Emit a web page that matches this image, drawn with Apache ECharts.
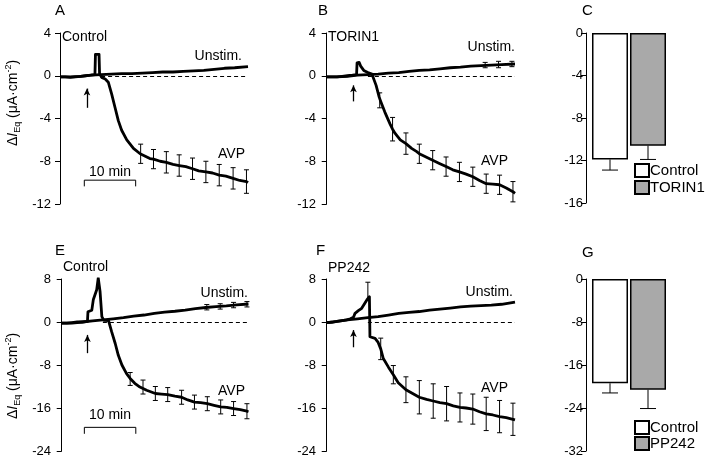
<!DOCTYPE html>
<html>
<head>
<meta charset="utf-8">
<script src="https://cdn.jsdelivr.net/npm/echarts@6/dist/echarts.min.js"></script>
<style>html,body{margin:0;background:#fff}#chart{width:709px;height:460px}</style>
</head>
<body>
<div id="chart"></div>
<script>
const FONT = 'Liberation Sans, Arial, Helvetica, sans-serif';

// time in min, current in µA·cm-2
// panel A (Control)
const avpA = [[0,-0.1],[1,-0.1],[2,-0.15],[3,-0.1],[4,-0.05],[5,0],[6,0.05],[6.8,0.1],[6.9,2.0],[7.6,2.0],[7.7,0.2],[8.1,-0.15],[8.8,-0.3],[9.4,-0.6],[10.05,-1.7],[10.7,-2.95],[11.35,-4.2],[12,-5.1],[13,-6.0],[14.3,-6.8],[15.6,-7.3],[16.5,-7.5],[17.5,-7.75],[18.2,-7.8],[19.5,-8.0],[20.7,-8.1],[22,-8.3],[23.2,-8.4],[24.5,-8.5],[25.8,-8.7],[27,-8.9],[28.4,-9.0],[29.7,-9.1],[31,-9.3],[32.3,-9.4],[33.7,-9.6],[35,-9.8],[36.3,-9.9],[36.6,-10.0]];
const unstimA = [[0,-0.1],[2,-0.1],[4,-0.05],[6,0.05],[8,0.1],[10,0.15],[12,0.2],[14,0.2],[16,0.25],[18,0.3],[20,0.35],[22,0.35],[24,0.4],[26,0.45],[28,0.5],[30,0.6],[32,0.7],[34,0.75],[36.6,0.85]];
const errAvpA = [[15.7,-7.3,0.9],[18.2,-7.8,0.9],[20.7,-8.1,1.0],[23.2,-8.4,1.0],[25.8,-8.7,1.0],[28.4,-9.0,1.0],[31.0,-9.3,1.0],[33.7,-9.6,1.0],[36.3,-9.9,1.1]];

// panel B (TORIN1)
const avpB = [[0,-0.1],[1,-0.1],[2,-0.1],[3,-0.05],[4,0],[5,0.05],[5.8,0.1],[5.9,1.2],[6.3,1.25],[6.6,0.9],[7.2,0.5],[8,0.3],[8.8,0.15],[9.1,0.05],[9.6,-0.9],[10.2,-2.0],[10.5,-2.4],[11.3,-3.4],[12.3,-4.5],[12.8,-5.0],[13.3,-5.4],[14.3,-6.0],[15.4,-6.35],[16.5,-6.8],[17.5,-7.1],[18.0,-7.3],[19.3,-7.6],[20.6,-7.9],[21.9,-8.2],[23.2,-8.5],[24.5,-8.8],[25.8,-9.0],[27.1,-9.2],[28.4,-9.45],[29.7,-9.8],[31.0,-10.1],[32.3,-10.15],[33.6,-10.2],[34.9,-10.5],[36.2,-10.85],[36.6,-11.0]];
const unstimB = [[0,-0.1],[2,-0.1],[4,-0.05],[6,0.05],[8,0.1],[10,0.15],[12,0.25],[14,0.3],[16,0.4],[18,0.5],[20,0.55],[22,0.65],[24,0.75],[26,0.8],[28,0.9],[30,0.95],[32,1.0],[34,1.05],[36.6,1.1]];
const errAvpB = [[10.3,-2.3,0.7],[12.8,-5.0,1.1],[15.4,-6.35,1.0],[18.0,-7.3,0.9],[20.6,-7.9,0.9],[23.2,-8.5,0.9],[25.8,-9.0,0.9],[28.4,-9.45,0.9],[31.0,-10.1,0.9],[33.6,-10.2,0.9],[36.2,-10.85,0.95]];
const errUnstimB = [[30.8,1.0,0.25],[33.4,1.05,0.3],[36.0,1.1,0.25]];

// panel E (Control)
const avpE = [[0,-0.2],[1,-0.2],[2,-0.1],[3,0],[4,0],[5.0,0.1],[5.1,1.9],[5.85,2.2],[6.15,4.2],[6.8,6.0],[7.1,8.2],[7.45,5.7],[7.8,1.0],[8.2,0.3],[9.1,0.25],[9.7,-1.8],[10.4,-4.0],[11.0,-6.2],[11.7,-8.0],[12.6,-9.6],[13.3,-10.5],[14.2,-11.4],[15.2,-12.1],[16.5,-12.7],[18.2,-13.3],[19.4,-13.4],[20.6,-13.5],[22,-13.8],[23.3,-14.0],[24.5,-14.5],[25.8,-14.9],[27,-15.0],[28.3,-15.2],[29.6,-15.5],[30.9,-15.8],[32.1,-15.9],[33.4,-16.1],[34.7,-16.3],[36.0,-16.6],[36.3,-16.7]];
const unstimE = [[0,-0.2],[2,-0.2],[4,0],[6,0.2],[8,0.4],[10,0.6],[12,0.8],[14,1.1],[16,1.3],[18,1.6],[20,1.85],[22,2.0],[24,2.2],[26,2.5],[28,2.7],[30,2.85],[32,3.0],[34,3.2],[36.3,3.35]];
const errAvpE = [[13.3,-10.6,1.2],[15.8,-12.1,1.3],[18.2,-13.3,1.3],[20.6,-13.5,1.3],[23.3,-14.0,1.3],[25.8,-14.9,1.3],[28.3,-15.2,1.3],[30.9,-15.8,1.3],[33.4,-16.1,1.3],[36.0,-16.6,1.4]];
const errUnstimE = [[28.2,2.75,0.5],[30.8,2.9,0.5],[33.4,3.15,0.5],[36.0,3.3,0.5]];

// panel F (PP242)
const avpF = [[0,-0.1],[1,-0.05],[2,0.1],[3,0.25],[3.9,0.4],[4.6,0.6],[5.2,0.9],[5.5,1.6],[6.15,2.1],[6.8,2.55],[7.1,2.9],[7.8,4.1],[8.3,4.7],[8.4,-2.75],[9.4,-3.05],[10.0,-3.8],[10.5,-5.0],[11.0,-6.8],[12.0,-8.4],[12.95,-9.8],[13.9,-11.3],[15.4,-12.6],[16.7,-13.3],[18.0,-14.0],[19.4,-14.4],[20.7,-14.7],[22,-15.0],[23.3,-15.2],[24.6,-15.6],[25.9,-15.9],[27.1,-16.0],[28.4,-16.2],[29.7,-16.7],[31.0,-17.1],[32.3,-17.3],[33.6,-17.6],[34.9,-17.8],[36.2,-18.1],[36.6,-18.2]];
const unstimF = [[0,-0.1],[2,0.1],[4,0.4],[6,0.6],[8,0.8],[10,1.0],[12,1.3],[14,1.6],[16,1.8],[18,1.95],[20,2.2],[22,2.4],[24,2.6],[26,2.8],[28,2.95],[30,3.05],[32,3.15],[34,3.3],[36.6,3.7]];
const errAvpF = [[10.5,-5.0,2.0],[12.95,-9.8,1.7],[15.4,-12.6,2.4],[18.0,-14.0,3.1],[20.7,-14.7,3.2],[23.3,-15.2,3.2],[25.9,-15.9,2.7],[28.4,-16.2,2.8],[31.0,-17.1,3.1],[33.6,-17.6,3.0],[36.2,-18.1,3.0]];
const peakErrF = [[8.0,4.5,2.9]];

// bar panels C and G
const catsC = ['Control', 'TORIN1'];
const meanC = [-11.9, -10.6];
const semC = [1.0, 1.3];
const catsG = ['Control', 'PP242'];
const meanG = [-19.4, -20.6];
const semG = [1.8, 3.5];

const chart = echarts.init(document.getElementById('chart'));

const grids = [
  {left: 54, top: 33, width: 194, height: 171},   // A
  {left: 319, top: 33, width: 196, height: 171},  // B
  {left: 54, top: 279, width: 195, height: 172},  // E
  {left: 319, top: 279, width: 196, height: 172}, // F
  {left: 591, top: 33, width: 76, height: 170},   // C
  {left: 591, top: 279, width: 76, height: 172}   // G
];
const xRange = [[-1.17, 36.6], [-1.5, 36.6], [-1.5, 36.4], [-1.5, 36.6]];
const yRange = [[-12, 4, 4], [-12, 4, 4], [-24, 8, 8], [-24, 8, 8], [-16, 0, 4], [-32, 0, 8]];

const xAxes = xRange.map((r, i) => ({
  type: 'value', gridIndex: i, min: r[0], max: r[1], show: false
}));
xAxes.push({type: 'category', gridIndex: 4, data: catsC, show: false});
xAxes.push({type: 'category', gridIndex: 5, data: catsG, show: false});

const yAxes = yRange.map((r, i) => ({
  type: 'value', gridIndex: i, min: r[0], max: r[1], interval: r[2],
  offset: i >= 4 ? 5 : 0,
  axisLine: {show: true, lineStyle: {color: '#000', width: 1}},
  axisTick: {show: true, length: 5, lineStyle: {color: '#000', width: 1}},
  axisLabel: {color: '#000', fontSize: 13, fontFamily: FONT, margin: 3},
  splitLine: {show: false}
}));

// error bar drawing: value dims [x, lo, hi, capLo, capHi, halfCap]
function renderErr(params, api) {
  const lo = api.coord([api.value(0), api.value(1)]);
  const hi = api.coord([api.value(0), api.value(2)]);
  const w = api.value(5);
  const st = {stroke: '#000', lineWidth: 1};
  const kids = [{type: 'line', shape: {x1: lo[0], y1: lo[1], x2: hi[0], y2: hi[1]}, style: st}];
  if (api.value(3)) kids.push({type: 'line', shape: {x1: lo[0] - w, y1: lo[1], x2: lo[0] + w, y2: lo[1]}, style: st});
  if (api.value(4)) kids.push({type: 'line', shape: {x1: hi[0] - w, y1: hi[1], x2: hi[0] + w, y2: hi[1]}, style: st});
  return {type: 'group', children: kids};
}
function errSeries(idx, rows, opts) {
  const o = Object.assign({up: true, down: true, cap: 2.5}, opts || {});
  return {
    type: 'custom', xAxisIndex: idx, yAxisIndex: idx, z: 4, silent: true,
    renderItem: renderErr,
    encode: {x: 0, y: [1, 2]},
    data: rows.map(r => [r[0], o.down ? r[1] - r[2] : r[1], o.up ? r[1] + r[2] : r[1], o.down ? 1 : 0, o.up ? 1 : 0, o.cap])
  };
}
function trace(idx, name, data) {
  return {
    type: 'line', name: name, xAxisIndex: idx, yAxisIndex: idx, data: data,
    showSymbol: false, z: 3, silent: true,
    lineStyle: {color: '#000', width: 2.8, join: 'round'}
  };
}
function baseline(idx, t0, t1) {
  return {
    silent: true, symbol: 'none', label: {show: false},
    lineStyle: {color: '#000', width: 1, type: [4, 3]},
    data: [[{coord: [t0, 0]}, {coord: [t1, 0]}]]
  };
}
function arrow(t, y0, y1) {
  return {
    silent: true, label: {show: false},
    lineStyle: {color: '#000', width: 1.3, type: 'solid'},
    symbol: ['none', 'arrow'], symbolSize: [5, 7],
    data: [[{coord: [t, y0]}, {coord: [t, y1]}]]
  };
}
function scaleBar(idx, t0, y, drop) {
  return {
    type: 'line', xAxisIndex: idx, yAxisIndex: idx, showSymbol: false, silent: true,
    lineStyle: {color: '#000', width: 1},
    data: [[t0, drop], [t0, y], [t0 + 10, y], [t0 + 10, drop]]
  };
}

const series = [];
// A
series.push(Object.assign(trace(0, 'unstimA', unstimA), {markLine: baseline(0, 8, 36.6)}));
series.push(Object.assign(trace(0, 'avpA', avpA), {markLine: arrow(5.25, -3.0, -1.2)}));
series.push(errSeries(0, errAvpA));
series.push(scaleBar(0, 4.73, -9.77, -10.35));
// B
series.push(Object.assign(trace(1, 'unstimB', unstimB), {markLine: baseline(1, 8, 36.6)}));
series.push(Object.assign(trace(1, 'avpB', avpB), {markLine: arrow(5.2, -2.4, -0.9)}));
series.push(errSeries(1, errAvpB));
series.push(errSeries(1, errUnstimB));
// E
series.push(Object.assign(trace(2, 'unstimE', unstimE), {markLine: baseline(2, 8, 36.4)}));
series.push(Object.assign(trace(2, 'avpE', avpE), {markLine: arrow(5.0, -5.8, -2.4)}));
series.push(errSeries(2, errAvpE));
series.push(errSeries(2, errUnstimE));
series.push(scaleBar(2, 4.4, -19.6, -20.8));
// F
series.push(Object.assign(trace(3, 'unstimF', unstimF), {markLine: baseline(3, 8, 36.6)}));
series.push(Object.assign(trace(3, 'avpF', avpF), {markLine: arrow(5.2, -4.7, -1.5)}));
series.push(errSeries(3, errAvpF));
series.push(errSeries(3, peakErrF, {down: false}));

// bars
function barPair(idx, cats, means) {
  return cats.map((c, i) => ({
    type: 'bar', name: c, xAxisIndex: idx, yAxisIndex: idx, barWidth: 36, barGap: '-100%',
    silent: true,
    itemStyle: {color: i === 0 ? '#ffffff' : '#a9a9a9', borderColor: '#000', borderWidth: 1.5},
    data: means.map((m, j) => (j === i ? m : '-'))
  }));
}
series.push(...barPair(4, catsC, meanC));
series.push(errSeries(4, meanC.map((m, i) => [i, m, semC[i]]), {up: false, cap: 8}));
series.push(...barPair(5, catsG, meanG));
series.push(errSeries(5, meanG.map((m, i) => [i, m, semG[i]]), {up: false, cap: 8}));

const legendBase = {
  orient: 'vertical', icon: 'rect', itemWidth: 14, itemHeight: 13,
  padding: 0, selectedMode: false,
  textStyle: {fontSize: 15, lineHeight: 14, fontFamily: FONT, color: '#000', padding: [0, 0, 0, -4]}
};

function txt(x, y, s, size, align) {
  return {type: 'text', x: x, y: y, silent: true,
    style: {text: s, fontSize: size, fontFamily: FONT, fill: '#000', align: align || 'left', verticalAlign: 'middle'}};
}
const ylabRich = {
  a: {fontSize: 14, fontFamily: FONT, lineHeight: 18, fill: '#000'},
  i: {fontSize: 14, fontFamily: FONT, fontStyle: 'italic', lineHeight: 18, fill: '#000'},
  s: {fontSize: 9, fontFamily: FONT, lineHeight: 9, verticalAlign: 'bottom', fill: '#000'},
  p: {fontSize: 9, fontFamily: FONT, lineHeight: 9, verticalAlign: 'top', fill: '#000'}
};
function ylab(x, y) {
  return {type: 'text', x: x, y: y, rotation: Math.PI / 2, silent: true,
    style: {text: '{a|Δ}{i|I}{s|Eq}{a| (μA·cm}{p|-2}{a|)}', rich: ylabRich, align: 'center', verticalAlign: 'middle'}};
}

const graphics = [
  txt(55, 11, 'A', 15), txt(318, 11, 'B', 15), txt(582, 11, 'C', 15),
  txt(55, 251, 'E', 15), txt(316, 251, 'F', 15), txt(582, 253, 'G', 15),
  txt(62, 37, 'Control', 14), txt(242, 56, 'Unstim.', 14, 'right'), txt(245, 154, 'AVP', 14, 'right'),
  txt(110, 172, '10 min', 14, 'center'),
  txt(328, 37, 'TORIN1', 14), txt(515, 47, 'Unstim.', 14, 'right'), txt(508, 161, 'AVP', 14, 'right'),
  txt(63, 267, 'Control', 14), txt(248, 293, 'Unstim.', 14, 'right'), txt(245, 391, 'AVP', 14, 'right'),
  txt(110, 415, '10 min', 14, 'center'),
  txt(328, 268, 'PP242', 14), txt(513, 292, 'Unstim.', 14, 'right'), txt(508, 388, 'AVP', 14, 'right'),
  ylab(13, 103), ylab(13, 376)
];

chart.setOption({
  animation: false,
  backgroundColor: '#fff',
  grid: grids,
  xAxis: xAxes,
  yAxis: yAxes,
  legend: [
    Object.assign({left: 634, top: 163, itemGap: 2, data: catsC}, legendBase),
    Object.assign({left: 634, top: 420, itemGap: 1, data: catsG}, legendBase)
  ],
  graphic: graphics,
  series: series
});
</script>
</body>
</html>
